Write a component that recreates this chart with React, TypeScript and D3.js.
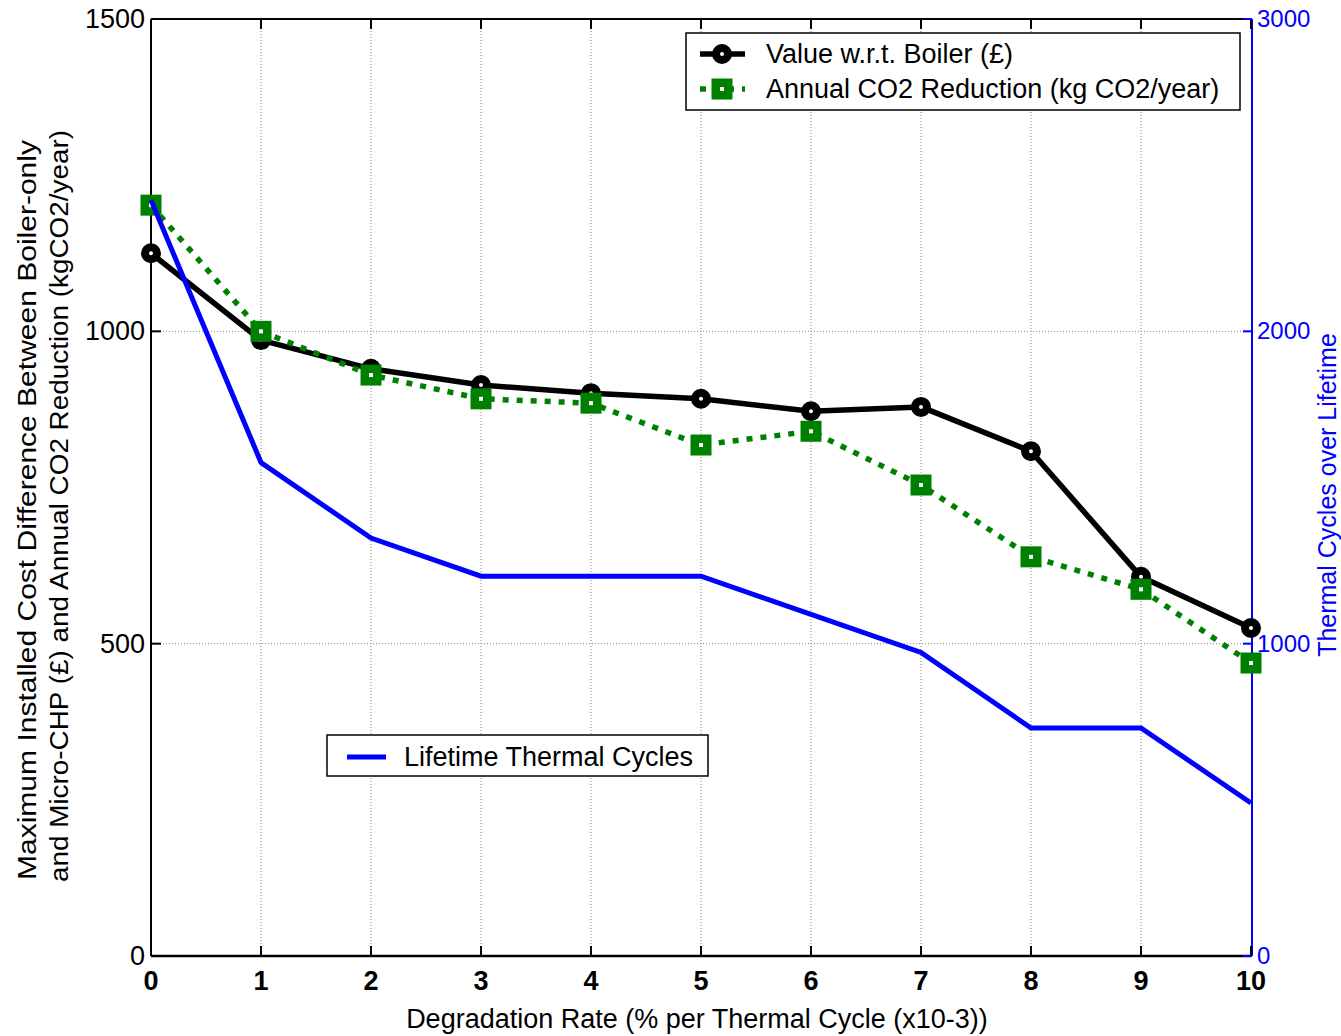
import React from 'react';
import * as d3 from 'd3';

const degradation = [0, 1, 2, 3, 4, 5, 6, 7, 8, 9, 10];
const valueWrtBoiler = [1125, 986, 940, 914, 901, 892, 872, 879, 808, 607, 525];
const co2Reduction = [1202, 1000, 930, 892, 885, 818, 840, 754, 639, 587, 469];
const thermalCycles = [2420, 1580, 1338, 1216, 1216, 1216, 1094, 972, 730, 730, 490];
const leftTicks = [0, 500, 1000, 1500];
const rightTicks = [0, 1000, 2000, 3000];

const FONT = '"Liberation Sans", Arial, sans-serif';

export default function App() {
  const width = 1341;
  const height = 1036;
  const x = d3.scaleLinear().domain([0, 10]).range([151, 1251]);
  const yL = d3.scaleLinear().domain([0, 1500]).range([956, 19]);
  const yR = d3.scaleLinear().domain([0, 3000]).range([956, 19]);

  const lineL = d3.line<number>().x((_, i) => x(degradation[i])).y(d => yL(d));
  const lineR = d3.line<number>().x((_, i) => x(degradation[i])).y(d => yR(d));

  const [x0, x1] = x.range();
  const [yb, yt] = yL.range();

  return (
    <svg width={width} height={height} style={{ position: 'absolute', left: 0, top: 0, background: '#fff' }}
      fontFamily={FONT}>
      <rect x={0} y={0} width={width} height={height} fill="#fff" />
      {/* grid */}
      {degradation.slice(1, -1).map(d => (
        <line key={'gx' + d} x1={x(d)} x2={x(d)} y1={yt} y2={yb} stroke="#888" strokeWidth={1} strokeDasharray="1,2" />
      ))}
      {leftTicks.slice(1, -1).map(t => (
        <line key={'gy' + t} x1={x0} x2={x1} y1={yL(t)} y2={yL(t)} stroke="#888" strokeWidth={1} strokeDasharray="1,2" />
      ))}

      {/* frame */}
      <line x1={x0} x2={x1} y1={yt} y2={yt} stroke="#000" strokeWidth={2} />
      <line x1={x0} x2={x1} y1={yb} y2={yb} stroke="#000" strokeWidth={2.5} />
      <line x1={x0} x2={x0} y1={yt} y2={yb} stroke="#000" strokeWidth={2} />
      <line x1={x1 + 1} x2={x1 + 1} y1={yt} y2={yb} stroke="#0000ff" strokeWidth={2} />

      {/* x ticks */}
      {degradation.map(d => (
        <g key={'xt' + d}>
          <line x1={x(d)} x2={x(d)} y1={yb} y2={yb - 10} stroke="#000" strokeWidth={2} />
          <line x1={x(d)} x2={x(d)} y1={yt} y2={yt + 10} stroke="#000" strokeWidth={2} />
          <text x={x(d)} y={yb + 34} textAnchor="middle" fontSize={27} fontWeight="bold">{d}</text>
        </g>
      ))}
      {/* left ticks */}
      {leftTicks.map(t => (
        <g key={'yl' + t}>
          <line x1={x0} x2={x0 + 10} y1={yL(t)} y2={yL(t)} stroke="#000" strokeWidth={2} />
          <text x={x0 - 6} y={yL(t) + 9} textAnchor="end" fontSize={27}>{t}</text>
        </g>
      ))}
      {/* right ticks */}
      {rightTicks.map(t => (
        <g key={'yr' + t}>
          <line x1={x1 + 1} x2={x1 - 8} y1={yR(t)} y2={yR(t)} stroke="#0000ff" strokeWidth={2} />
          <text x={x1 + 6} y={yR(t) + 8} textAnchor="start" fontSize={24} fill="#0000ff">{t}</text>
        </g>
      ))}

      {/* black series */}
      <path d={lineL(valueWrtBoiler) || ''} fill="none" stroke="#000" strokeWidth={5.5} strokeLinejoin="round" />
      {valueWrtBoiler.map((v, i) => (
        <circle key={'c' + i} cx={x(degradation[i])} cy={yL(v)} r={6} fill="#fff" stroke="#000" strokeWidth={8} />
      ))}

      {/* green series */}
      <path d={lineL(co2Reduction) || ''} fill="none" stroke="#008000" strokeWidth={5.5} strokeDasharray="6,8" />
      {co2Reduction.map((v, i) => (
        <rect key={'s' + i} x={x(degradation[i]) - 6.25} y={yL(v) - 6.25} width={12.5} height={12.5}
          fill="#fff" stroke="#008000" strokeWidth={8.5} />
      ))}

      {/* blue series */}
      <path d={lineR(thermalCycles) || ''} fill="none" stroke="#0000ff" strokeWidth={5} strokeLinejoin="miter" />

      {/* legend 1 */}
      <rect x={686} y={33} width={554} height={77} fill="#fff" stroke="#000" strokeWidth={1.5} />
      <line x1={700} x2={745} y1={54} y2={54} stroke="#000" strokeWidth={5.5} />
      <circle cx={722} cy={54} r={6} fill="#fff" stroke="#000" strokeWidth={8} />
      <text x={766} y={63} fontSize={27}>Value w.r.t. Boiler (£)</text>
      <line x1={700} x2={745} y1={89} y2={89} stroke="#008000" strokeWidth={5.5} strokeDasharray="6,8" />
      <rect x={715.75} y={82.75} width={12.5} height={12.5} fill="#fff" stroke="#008000" strokeWidth={8.5} />
      <text x={766} y={98} fontSize={27}>Annual CO2 Reduction (kg CO2/year)</text>

      {/* legend 2 */}
      <rect x={327} y={735} width={381} height={41} fill="#fff" stroke="#000" strokeWidth={1.5} />
      <line x1={347} x2={386} y1={757} y2={757} stroke="#0000ff" strokeWidth={5} />
      <text x={404} y={766} fontSize={27}>Lifetime Thermal Cycles</text>

      {/* axis titles */}
      <text x={(x0 + x1) / 2 - 4} y={1028} textAnchor="middle" fontSize={27}>
        Degradation Rate (% per Thermal Cycle (x10-3))
      </text>
      <text transform="translate(36,510) rotate(-90)" textAnchor="middle" fontSize={26}
        textLength={740} lengthAdjust="spacingAndGlyphs">
        Maximum Installed Cost Difference Between Boiler-only
      </text>
      <text transform="translate(68,506) rotate(-90)" textAnchor="middle" fontSize={26}
        textLength={752} lengthAdjust="spacingAndGlyphs">
        and Micro-CHP (£) and Annual CO2 Reduction (kgCO2/year)
      </text>
      <text transform="translate(1336,495) rotate(-90)" textAnchor="middle" fontSize={25} fill="#0000ff">
        Thermal Cycles over Lifetime
      </text>
    </svg>
  );
}
